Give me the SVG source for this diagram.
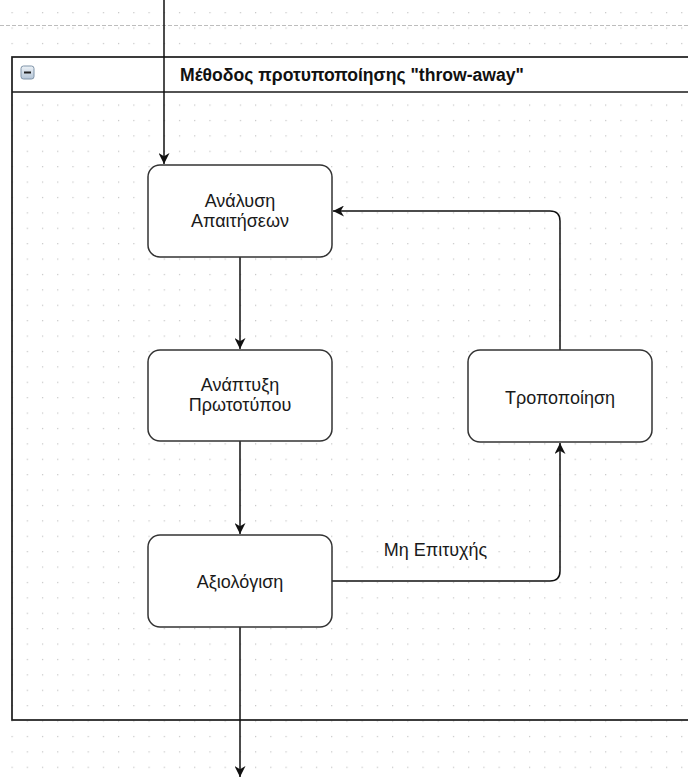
<svg xmlns="http://www.w3.org/2000/svg" width="688" height="780" viewBox="0 0 688 780">
  <defs>
    <pattern id="grid" x="11.5" y="12.1" width="15.22" height="15.4" patternUnits="userSpaceOnUse">
      <rect x="0" y="0" width="1.2" height="1.2" fill="#c4c4c4"/>
    </pattern>
    <linearGradient id="btn" x1="0" y1="0" x2="0" y2="1">
      <stop offset="0" stop-color="#eef3f8"/>
      <stop offset="1" stop-color="#b3c4d6"/>
    </linearGradient>
    <marker id="arrow" viewBox="0 0 10 10" refX="10" refY="5" markerWidth="11" markerHeight="11" markerUnits="userSpaceOnUse" orient="auto">
      <path d="M0,0 L10,5 L0,10 L3,5 Z" fill="#111"/>
    </marker>
    <style>
      .node rect { fill: #ffffff; stroke: #333333; stroke-width: 1.5; }
      .label { font-family: "Liberation Sans", Arial, sans-serif; font-size: 18px; fill: #1a1a1a; text-anchor: middle; }
      .edge { fill: none; stroke: #111111; stroke-width: 1.5; }
      .frame { fill: none; stroke: #1a1a1a; stroke-width: 1.7; }
      .title { font-family: "Liberation Sans", Arial, sans-serif; font-size: 17.6px; font-weight: bold; fill: #111111; }
    </style>
  </defs>

  <!-- canvas with dotted grid -->
  <rect x="0" y="0" width="688" height="780" fill="#ffffff"/>
  <rect x="0" y="0" width="688" height="780" fill="url(#grid)"/>

  <!-- page break line -->
  <line x1="0" y1="25.5" x2="688" y2="25.5" stroke="#bdbdbd" stroke-width="1" stroke-dasharray="4,2"/>

  <!-- swimlane container -->
  <g id="pool">
    <rect x="12" y="57" width="690" height="35" fill="#ffffff"/>
    <rect class="frame" x="12" y="57" width="690" height="663"/>
    <line class="frame" x1="12" y1="92" x2="702" y2="92"/>
    <rect x="21" y="66" width="13" height="13" rx="2.5" fill="url(#btn)" stroke="#7f93a8" stroke-width="1"/>
    <rect x="24" y="71.5" width="7" height="2" fill="#222"/>
    <text class="title" x="180" y="80.5">Μέθοδος προτυποποίησης "throw-away"</text>
  </g>

  <!-- connectors -->
  <g id="edges">
    <path class="edge" d="M164,0 L164,164" marker-end="url(#arrow)"/>
    <path class="edge" d="M240,257 L240,349" marker-end="url(#arrow)"/>
    <path class="edge" d="M240,441 L240,534" marker-end="url(#arrow)"/>
    <path class="edge" d="M332,581 L550,581 Q560,581 560,571 L560,443" marker-end="url(#arrow)"/>
    <path class="edge" d="M560,350 L560,221 Q560,211 550,211 L333,211" marker-end="url(#arrow)"/>
    <path class="edge" d="M240,627 L240,777" marker-end="url(#arrow)"/>
    <text class="label" x="435.5" y="555.5">Μη Επιτυχής</text>
  </g>

  <!-- process steps -->
  <g id="analysis" class="node">
    <rect x="148" y="165" width="184" height="92" rx="12"/>
    <text class="label" x="240" y="207">Ανάλυση</text>
    <text class="label" x="240" y="226.5">Απαιτήσεων</text>
  </g>
  <g id="prototype" class="node">
    <rect x="148" y="350" width="184" height="91" rx="12"/>
    <text class="label" x="240" y="391">Ανάπτυξη</text>
    <text class="label" x="240" y="411">Πρωτοτύπου</text>
  </g>
  <g id="evaluation" class="node">
    <rect x="148" y="535" width="184" height="92" rx="12"/>
    <text class="label" x="240" y="587.5">Αξιολόγιση</text>
  </g>
  <g id="modification" class="node">
    <rect x="468" y="350" width="184" height="92" rx="12"/>
    <text class="label" x="560" y="403.5">Τροποποίηση</text>
  </g>
</svg>
